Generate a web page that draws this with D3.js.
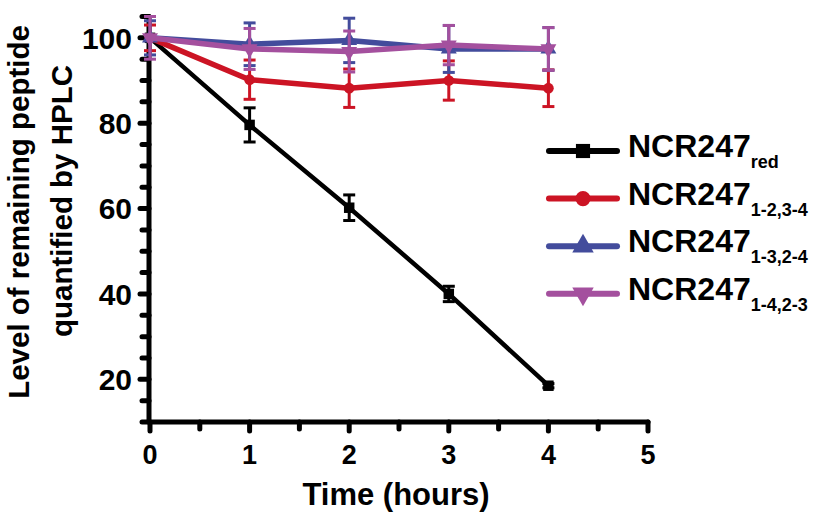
<!DOCTYPE html>
<html><head><meta charset="utf-8">
<script src="https://cdn.jsdelivr.net/npm/d3@7"></script>
<style>
body{margin:0;background:#fff;}
text{font-family:"Liberation Sans",Arial,Helvetica,sans-serif;font-weight:bold;fill:#000;}
</style></head>
<body><svg id="chart" width="816" height="519"></svg>
<script>
const times = [0, 1, 2, 3, 4];
const seriesNames = ["red", "1-2,3-4", "1-3,2-4", "1-4,2-3"];
const seriesColors = ["#000000", "#cc1424", "#434c9c", "#a4509e"];
const seriesSymbols = ["square", "circle", "triangle", "triangleDown"];
const valuesRed = [100, 79.6, 60.2, 40.0, 18.5];
const errRed = [0, 4.0, 3.0, 1.8, 0.5];
const values1234 = [100, 90.2, 88.2, 90.0, 88.2];
const err1234 = [3, 4.6, 4.5, 4.6, 4.3];
const values1324 = [100, 98.5, 99.4, 97.4, 97.4];
const err1324 = [4, 5.0, 5.2, 5.5, 5.0];
const values1423 = [100, 97.4, 96.8, 98.3, 97.4];
const err1423 = [5.0, 4.8, 4.8, 4.6, 5.0];
const yMajorTicks = [20, 40, 60, 80, 100];
const yMinorTicks = [10, 15, 25, 30, 35, 45, 50, 55, 65, 70, 75, 85, 90, 95, 105];
const xMajorTicks = [0, 1, 2, 3, 4, 5];
const xMinorTicks = [0.5, 1.5, 2.5, 3.5, 4.5];
const xTitle = "Time (hours)";
const yTitleLines = ["Level of remaining peptide", "quantified by HPLC"];
const legendBase = "NCR247";

const series = [
  {name: seriesNames[0], values: valuesRed, err: errRed},
  {name: seriesNames[1], values: values1234, err: err1234},
  {name: seriesNames[2], values: values1324, err: err1324},
  {name: seriesNames[3], values: values1423, err: err1423}
].map((s, i) => ({...s, color: seriesColors[i], symbol: seriesSymbols[i]}));

const svg = d3.select("#chart");
const x = d3.scaleLinear().domain([0, 5]).range([150, 648]);
const y = d3.scaleLinear().domain([10, 105]).range([422, 16.5]);
const x0 = 149;

// axes
const axG = svg.append("g").attr("stroke", "#000").attr("stroke-linecap", "round");
axG.append("line").attr("x1", x0).attr("x2", x0).attr("y1", y(105)).attr("y2", y(10)).attr("stroke-width", 5);
axG.append("line").attr("x1", x0).attr("x2", x(5)).attr("y1", y(10)).attr("y2", y(10)).attr("stroke-width", 5);
axG.selectAll(".ymaj").data(yMajorTicks).enter().append("line")
  .attr("x1", x0 - 9).attr("x2", x0).attr("y1", d => y(d)).attr("y2", d => y(d)).attr("stroke-width", 5);
axG.selectAll(".ymin").data(yMinorTicks).enter().append("line")
  .attr("x1", x0 - 7).attr("x2", x0).attr("y1", d => y(d)).attr("y2", d => y(d)).attr("stroke-width", 5);
axG.selectAll(".xmaj").data(xMajorTicks).enter().append("line")
  .attr("x1", d => x(d)).attr("x2", d => x(d)).attr("y1", y(10)).attr("y2", y(10) + 9).attr("stroke-width", 5);
axG.selectAll(".xmin").data(xMinorTicks).enter().append("line")
  .attr("x1", d => x(d)).attr("x2", d => x(d)).attr("y1", y(10)).attr("y2", y(10) + 7).attr("stroke-width", 5);

svg.selectAll(".ylab").data(yMajorTicks).enter().append("text")
  .attr("x", 132).attr("y", d => y(d)).attr("dy", "0.36em")
  .attr("text-anchor", "end").style("font-size", "30px").text(d => d);
svg.selectAll(".xlab").data(xMajorTicks).enter().append("text")
  .attr("x", d => x(d)).attr("y", 464)
  .attr("text-anchor", "middle").style("font-size", "27px").text(d => d);

svg.append("text").attr("x", 396).attr("y", 505).attr("text-anchor", "middle")
  .style("font-size", "31px").text(xTitle);
svg.append("text").attr("transform", "translate(29,212) rotate(-90)")
  .attr("text-anchor", "middle").style("font-size", "29.5px").text(yTitleLines[0]);
svg.append("text").attr("transform", "translate(72,201) rotate(-90)")
  .attr("text-anchor", "middle").style("font-size", "29.5px").text(yTitleLines[1]);

function symbolPath(type, size) {
  if (type === "square") return d3.symbol(d3.symbolSquare, size)();
  if (type === "circle") return d3.symbol(d3.symbolCircle, size)();
  return d3.symbol(d3.symbolTriangle, size)();
}

const line = d3.line().x((d, i) => x(times[i])).y(d => y(d));
series.forEach(s => {
  const g = svg.append("g");
  times.forEach((t, i) => {
    if (s.err[i] <= 0) return;
    const cx = x(t), top = y(s.values[i] + s.err[i]), bot = y(s.values[i] - s.err[i]);
    g.append("line").attr("x1", cx).attr("x2", cx).attr("y1", top).attr("y2", bot)
      .attr("stroke", s.color).attr("stroke-width", 3);
    [top, bot].forEach(yy => g.append("line").attr("x1", cx - 6).attr("x2", cx + 6)
      .attr("y1", yy).attr("y2", yy).attr("stroke", s.color).attr("stroke-width", 3));
  });
  g.append("path").attr("d", line(s.values)).attr("fill", "none")
    .attr("stroke", s.color).attr("stroke-width", s.symbol === "square" ? 4.5 : 5.5)
    .attr("stroke-linejoin", "round");
  g.selectAll(".pt").data(s.values).enter().append("path")
    .attr("d", symbolPath(s.symbol, s.symbol === "circle" ? 90 : 110))
    .attr("transform", (d, i) => `translate(${x(times[i])},${y(d)})` + (s.symbol === "triangleDown" ? " rotate(180)" : ""))
    .attr("fill", s.color);
});

// legend
const lg = svg.append("g");
series.forEach((s, i) => {
  const ly = 151 + i * 47.6;
  lg.append("line").attr("x1", 549).attr("x2", 617).attr("y1", ly).attr("y2", ly)
    .attr("stroke", s.color).attr("stroke-width", 6).attr("stroke-linecap", "round");
  lg.append("path").attr("d", symbolPath(s.symbol, s.symbol === "circle" ? 180 : 200))
    .attr("transform", `translate(583,${ly})` + (s.symbol === "triangleDown" ? " rotate(180)" : ""))
    .attr("fill", s.color);
  const t = lg.append("text").attr("x", 628).attr("y", ly + 6).style("font-size", "32px");
  t.append("tspan").text(legendBase);
  t.append("tspan").attr("dy", 11).style("font-size", "18px").text(s.name);
});
</script></body></html>
